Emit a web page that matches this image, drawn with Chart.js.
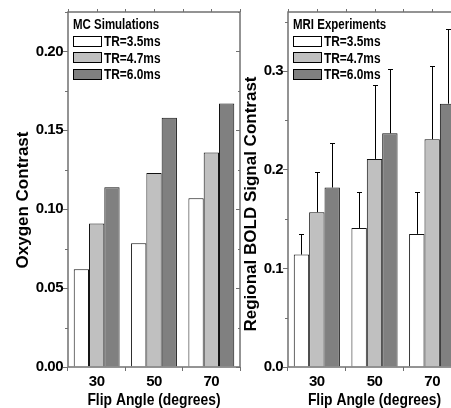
<!DOCTYPE html>
<html>
<head>
<meta charset="utf-8">
<script src="https://cdn.jsdelivr.net/npm/chart.js@4.4.1/dist/chart.umd.min.js"></script>
<style>
  html, body { margin: 0; padding: 0; background: #fff; overflow: hidden; }
  body { width: 451px; height: 408px; position: relative; }
  canvas { position: absolute; top: 0; }
  #mc { left: 0; }
  #mri { left: 225px; }
</style>
</head>
<body>
<canvas id="mc" width="244" height="408"></canvas>
<canvas id="mri" width="240" height="408"></canvas>
<script>
// Categorias e series
const flipAngles = ['30', '50', '70'];
const seriesLabels = ['TR=3.5ms', 'TR=4.7ms', 'TR=6.0ms'];

// MC Simulations
const mcTR35 = [0.062, 0.0785, 0.107];
const mcTR47 = [0.091, 0.123, 0.136];
const mcTR60 = [0.114, 0.158, 0.167];
const mcTicks = [0, 0.05, 0.10, 0.15, 0.20];

// MRI Experiments (+ erro superior)
const mriTR35 = [0.114, 0.141, 0.135];
const mriTR47 = [0.157, 0.211, 0.231];
const mriTR60 = [0.182, 0.237, 0.267];
const mriErr35 = [0.021, 0.036, 0.042];
const mriErr47 = [0.041, 0.075, 0.074];
const mriErr60 = [0.045, 0.065, 0.076];
const mriTicks = [0, 0.1, 0.2, 0.3];

const FONT = "'Liberation Sans', Arial, sans-serif";
const axisColor = '#707070';
const barFills = ['#ffffff', '#c0c0c0', '#808080'];

// texto "condensado" (a figura original tem fonte estreita)
function drawCondensed(ctx, text, x, y, size, squeeze, align) {
    ctx.save();
    ctx.letterSpacing = '0px';
    ctx.font = 'bold ' + size + 'px ' + FONT;
    ctx.fillStyle = '#000';
    ctx.textAlign = 'left';
    ctx.textBaseline = 'alphabetic';
    ctx.translate(x, y);
    ctx.scale(squeeze, 1);
    const w = ctx.measureText(text).width;
    ctx.fillText(text, align === 'center' ? -w / 2 : 0, 0);
    ctx.restore();
}

const panelDecor = {
    id: 'panelDecor',
    beforeDraw(chart) {
        chart.ctx.letterSpacing = '-0.5px';
    },
    afterDatasetsDraw(chart, args, opts) {
        if (!opts.errors) return;
        const { ctx, scales: { y } } = chart;
        ctx.save();
        ctx.strokeStyle = '#000';
        ctx.lineWidth = 1;
        chart.data.datasets.forEach((ds, i) => {
            const err = opts.errors[i];
            chart.getDatasetMeta(i).data.forEach((bar, j) => {
                const top = Math.round(y.getPixelForValue(ds.data[j] + err[j])) + 0.5;
                const x = Math.round(bar.x) + 0.5;
                ctx.beginPath();
                ctx.moveTo(x, bar.y);
                ctx.lineTo(x, top);
                ctx.moveTo(x - 2.5, top);
                ctx.lineTo(x + 2.5, top);
                ctx.stroke();
            });
        });
        ctx.restore();
    },
    afterDraw(chart, args, opts) {
        const { ctx, chartArea: a, scales: { x, y } } = chart;
        ctx.save();
        ctx.letterSpacing = '0px';

        // moldura
        ctx.strokeStyle = axisColor;
        ctx.lineWidth = 1.5;
        ctx.strokeRect(a.left, a.top, a.right - a.left, a.bottom - a.top);

        // ticks menores e espelhados
        ctx.lineWidth = 1;
        ctx.beginPath();
        const vals = y.ticks.map(t => t.value);
        const step = vals[1] - vals[0];
        vals.forEach(v => {
            const py = Math.round(y.getPixelForValue(v)) + 0.5;
            ctx.moveTo(a.right, py); ctx.lineTo(a.right - 4, py);
        });
        for (let k = 0; (k + 0.5) * step <= y.max + 1e-9; k++) {
            const py = Math.round(y.getPixelForValue((k + 0.5) * step)) + 0.5;
            ctx.moveTo(a.left, py); ctx.lineTo(a.left - 3, py);
            ctx.moveTo(a.right, py); ctx.lineTo(a.right - 2, py);
        }
        const half = (x.getPixelForValue(1) - x.getPixelForValue(0)) / 2;
        flipAngles.forEach((c, j) => {
            const cx = x.getPixelForValue(j);
            [cx - half, cx, cx + half].forEach(px => {
                px = Math.round(px) + 0.5;
                ctx.moveTo(px, a.top); ctx.lineTo(px, a.top - 3);
            });
        });
        ctx.stroke();

        // legenda
        const lx = a.left + 5;
        drawCondensed(ctx, opts.legendTitle, lx, a.top + 16.5, 14, 0.82);
        chart.data.datasets.forEach((ds, i) => {
            const cy = a.top + 29 + i * 16.5;
            ctx.fillStyle = ds.backgroundColor;
            ctx.fillRect(lx, Math.round(cy - 5.5), 29, 11);
            ctx.strokeStyle = '#000';
            ctx.strokeRect(lx + 0.5, Math.round(cy - 5.5) + 0.5, 28, 10);
            drawCondensed(ctx, ds.label, lx + 31, cy + 5, 14, 0.85);
        });

        // titulos dos eixos
        drawCondensed(ctx, 'Flip Angle (degrees)', (a.left + a.right) / 2, 405, 17, 0.815, 'center');
        ctx.translate(opts.yTitleX, opts.yTitleY);
        ctx.rotate(-Math.PI / 2);
        ctx.font = 'bold 17px ' + FONT;
        ctx.fillStyle = '#000';
        ctx.textAlign = 'center';
        ctx.textBaseline = 'alphabetic';
        ctx.fillText(opts.yTitle, 0, 0);
        ctx.restore();
    }
};

function makePanel(canvasId, series, tickValues, yMax, decimals, yWidth, decor) {
    return new Chart(document.getElementById(canvasId), {
        type: 'bar',
        data: {
            labels: flipAngles,
            datasets: series.map((d, i) => ({
                label: seriesLabels[i],
                data: d,
                backgroundColor: barFills[i],
                borderColor: '#111',
                borderWidth: 1,
                barPercentage: 1.0,
                categoryPercentage: 0.8
            }))
        },
        options: {
            responsive: false,
            animation: false,
            devicePixelRatio: 1,
            layout: { padding: { top: 12, right: 4, left: 0, bottom: 0 } },
            plugins: {
                legend: { display: false },
                tooltip: { enabled: false },
                panelDecor: decor
            },
            scales: {
                x: {
                    afterFit: s => { s.height = 41; },
                    border: { display: false },
                    grid: { drawOnChartArea: false, tickLength: 4, tickColor: axisColor, offset: true },
                    ticks: {
                        color: '#000',
                        padding: 2,
                        maxRotation: 0,
                        autoSkip: false,
                        font: { family: FONT, size: 15, weight: 'bold' }
                    }
                },
                y: {
                    min: 0,
                    max: yMax,
                    afterFit: s => { s.width = yWidth; },
                    afterBuildTicks: s => { s.ticks = tickValues.map(v => ({ value: v })); },
                    border: { display: false },
                    grid: { drawOnChartArea: false, tickLength: 5, tickColor: axisColor },
                    ticks: {
                        color: '#000',
                        padding: 0,
                        callback: v => Number(v).toFixed(decimals),
                        font: { family: FONT, size: 15, weight: 'bold' }
                    }
                }
            }
        },
        plugins: [panelDecor]
    });
}

makePanel('mc', [mcTR35, mcTR47, mcTR60], mcTicks, 0.225, 2, 68, {
    legendTitle: 'MC Simulations',
    yTitle: 'Oxygen Contrast',
    yTitleX: 28,
    yTitleY: 200
});

makePanel('mri', [mriTR35, mriTR47, mriTR60], mriTicks, 0.36, 1, 63, {
    legendTitle: 'MRI Experiments',
    yTitle: 'Regional BOLD Signal Contrast',
    yTitleX: 31,
    yTitleY: 204,
    errors: [mriErr35, mriErr47, mriErr60]
});
</script>
</body>
</html>
